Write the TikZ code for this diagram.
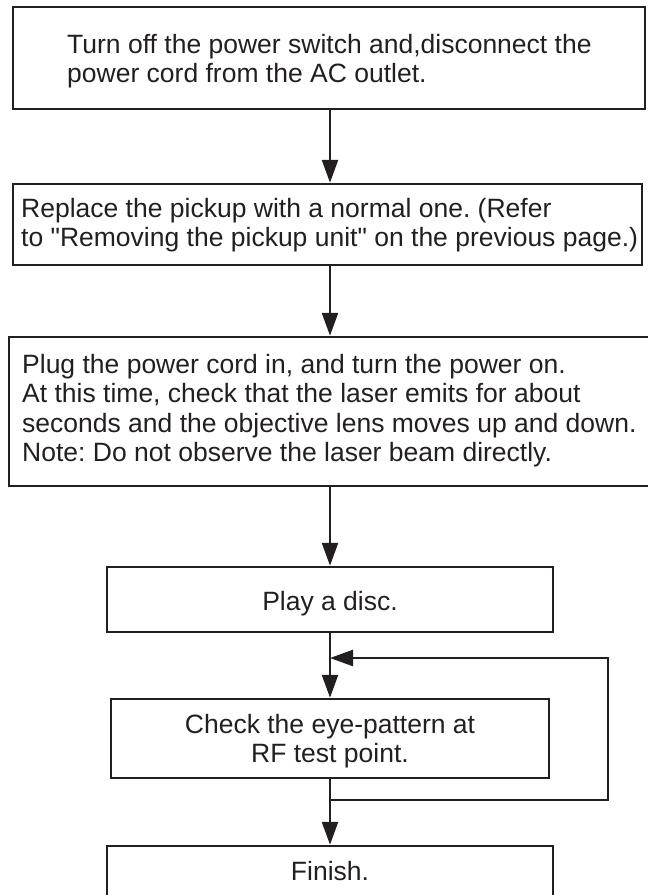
\documentclass[tikz,border=0pt]{standalone}
\usepackage{fontspec}
\setmainfont{Liberation Sans}[Ligatures=TeXOff]
\usetikzlibrary{arrows.meta}
\definecolor{ink}{RGB}{35,31,32}
\frenchspacing
\begin{document}
\frenchspacing
\begin{tikzpicture}[x=1pt,y=-1pt,
  box/.style={draw=ink, line width=2.5pt, inner sep=0pt},
  txt/.style={inner sep=0pt, text=ink, font=\fontsize{26.5}{29.5}\selectfont},
  arr/.style={draw=ink, line width=2.5pt, -{Triangle[length=23pt,width=16pt]}},
  lin/.style={draw=ink, line width=2.5pt},
]
\useasboundingbox (0,0) rectangle (648,895);
\clip (0,0) rectangle (648,895);
\coordinate (ax) at (330,0);
% boxes
\node[box, minimum width=632pt, minimum height=102pt] (b1) at (329,58) {};
\node[box, minimum width=629pt, minimum height=81pt] (b2) at (327.5,224.5) {};
\node[box, minimum width=646pt, minimum height=149pt] (b3) at (332,411.5) {};
\node[box, minimum width=446pt, minimum height=65pt] (b4) at (330,599.5) {};
\node[box, minimum width=438pt, minimum height=79pt] (b5) at (330,738.5) {};
\node[box, minimum width=446pt, minimum height=84pt] (b6) at (330,888) {};
% texts
\node[txt, anchor=base west] (t1) at (67,53) {\begin{tabular}[t]{@{}l@{}}Turn off the power switch and,disconnect the\\power cord from the AC outlet.\end{tabular}};
\node[txt, anchor=base west] (t2) at (21,217) {\begin{tabular}[t]{@{}l@{}}Replace the pickup with a normal one. (Refer\\to "Removing the pickup unit" on the previous page.)\end{tabular}};
\node[txt, anchor=base west] (t3) at (22,373) {\begin{tabular}[t]{@{}l@{}}Plug the power cord in, and turn the power on.\\At this time, check that the laser emits for about\\seconds and the objective lens moves up and down.\\Note: Do not observe the laser beam directly.\end{tabular}};
\node[txt, anchor=base] (t4) at (330,610) {Play a disc.};
\node[txt, anchor=base] (t5) at (330,733) {\begin{tabular}[t]{@{}c@{}}Check the eye-pattern at\\RF test point.\end{tabular}};
\node[txt, anchor=base] (t6) at (330,880) {Finish.};
% connectors
\coordinate (j) at (330,800);
\coordinate (lp) at (608,658);
\coordinate (m) at (330,658);
\draw[arr] (b1.south -| ax) -- (b2.north -| ax);
\draw[arr] (b2.south -| ax) -- (b3.north -| ax);
\draw[arr] (b3.south -| ax) -- (b4.north -| ax);
\draw[arr] (b4.south -| ax) -- (b5.north -| ax);
\draw[lin] (b5.south -| ax) -- (j);
\draw[arr] (j) -- (b6.north -| ax);
\draw[arr] (j) -| (lp) -- (m);
\end{tikzpicture}
\end{document}
